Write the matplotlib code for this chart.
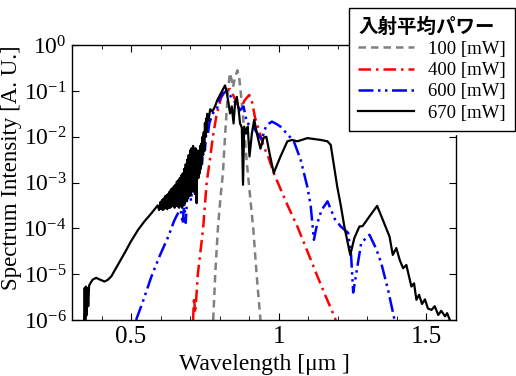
import numpy as np
import matplotlib
matplotlib.use('Agg')
import matplotlib.pyplot as plt
from matplotlib.ticker import MultipleLocator, LogLocator, NullLocator

plt.rcParams['font.family'] = ['Liberation Serif', 'Noto Sans CJK JP']
plt.rcParams['mathtext.fontset'] = 'custom'
plt.rcParams['mathtext.rm'] = 'Liberation Serif'

# wavelength [um] and log10(intensity)
wl_100 = [0.778, 0.785, 0.794, 0.803, 0.811, 0.818, 0.825, 0.832, 0.835, 0.840,
          0.845, 0.852, 0.860, 0.866, 0.874, 0.882, 0.892, 0.903, 0.914, 0.925, 0.938]
lg_100 = [-6.0, -5.0, -4.0, -3.3, -2.8, -2.0, -1.3, -0.75, -0.61, -0.75,
          -0.92, -0.7, -0.55, -0.7, -1.2, -1.8, -2.57, -3.3, -4.03, -5.0, -6.0]

wl_400 = [0.710, 0.713, 0.717, 0.721, 0.726, 0.735, 0.744, 0.750, 0.756, 0.767,
          0.777, 0.790, 0.805, 0.820, 0.835, 0.850, 0.868, 0.885, 0.900, 0.910,
          0.920, 0.935, 0.949, 0.965, 0.983, 1.000, 1.030, 1.063, 1.100, 1.131,
          1.160, 1.180, 1.193]
lg_400 = [-6.0, -5.5, -5.85, -5.5, -5.0, -4.5, -4.0, -3.5, -3.0, -2.5,
          -2.0, -1.5, -1.15, -0.98, -0.96, -1.15, -1.42, -1.2, -1.09, -1.25,
          -1.59, -1.9, -2.21, -2.45, -2.79, -3.05, -3.5, -3.96, -4.55, -5.05,
          -5.5, -5.8, -6.0]

wl_600 = [0.517, 0.540, 0.569, 0.597, 0.626, 0.645, 0.653, 0.660, 0.668, 0.675,
          0.680, 0.685, 0.690, 0.697, 0.703, 0.710, 0.716, 0.722, 0.728, 0.733,
          0.740, 0.745, 0.750, 0.755, 0.760, 0.765, 0.773, 0.780, 0.790, 0.801,
          0.812, 0.824, 0.835, 0.847, 0.858, 0.869, 0.881, 0.892, 0.905, 0.915,
          0.930, 0.943, 0.952, 0.960, 0.977, 0.992, 1.006, 1.030, 1.051, 1.074,
          1.097, 1.108, 1.119, 1.130, 1.145, 1.165, 1.190, 1.210, 1.235, 1.245,
          1.252, 1.262, 1.279, 1.307, 1.330, 1.347, 1.370, 1.392]
lg_600 = [-6.0, -5.6, -5.05, -4.6, -4.18, -3.85, -3.74, -3.66, -3.6, -3.9,
          -3.45, -3.88, -3.3, -3.1, -3.4, -2.94, -3.1, -2.6, -2.8, -2.43,
          -2.6, -2.1, -2.3, -1.85, -1.95, -1.7, -1.56, -1.45, -1.4, -1.16,
          -1.05, -1.0, -1.1, -1.2, -1.3, -1.42, -1.34, -1.7, -1.75, -1.8,
          -1.95, -2.07, -1.85, -1.74, -1.67, -1.72, -1.78, -1.95, -2.1, -2.5,
          -3.1, -3.5, -4.25, -3.9, -3.6, -3.41, -3.8, -3.96, -4.1, -4.6,
          -5.4, -5.0, -4.32, -4.14, -4.45, -4.76, -5.34, -6.0]

wl_670 = [0.341, 0.343, 0.345, 0.347, 0.349, 0.352, 0.355, 0.358, 0.362, 0.370,
          0.382, 0.395, 0.410, 0.420, 0.433, 0.455, 0.478, 0.500, 0.524, 0.545,
          0.569, 0.580, 0.590, 0.595, 0.600, 0.6025, 0.605, 0.6075, 0.610, 0.6125,
          0.615, 0.6175, 0.620, 0.6225, 0.625, 0.6275, 0.630, 0.6325, 0.635, 0.6375,
          0.640, 0.6425, 0.645, 0.6475, 0.650, 0.6525, 0.655, 0.6575, 0.660, 0.6625,
          0.665, 0.6675, 0.670, 0.6725, 0.675, 0.6775, 0.680, 0.6825, 0.685, 0.6875,
          0.690, 0.6925, 0.695, 0.6975, 0.700, 0.7025, 0.705, 0.7075, 0.710, 0.712,
          0.714, 0.716, 0.718, 0.720, 0.722, 0.724, 0.726, 0.728, 0.730, 0.732,
          0.734, 0.736, 0.738, 0.740, 0.742, 0.744, 0.746, 0.748, 0.750, 0.752,
          0.754, 0.756, 0.758, 0.762, 0.768, 0.775,
          0.784, 0.792, 0.800, 0.810, 0.818, 0.823, 0.830, 0.835, 0.841, 0.847,
          0.852, 0.858, 0.864, 0.869, 0.875, 0.879, 0.883, 0.890, 0.895, 0.901,
          0.909, 0.917, 0.926, 0.938, 0.949, 0.958, 0.970, 0.983, 1.006, 1.029,
          1.045, 1.063, 1.097, 1.142, 1.165, 1.176, 1.198, 1.210, 1.222, 1.233,
          1.242, 1.256, 1.273, 1.284, 1.307, 1.333, 1.352, 1.375, 1.386, 1.398,
          1.410, 1.421, 1.432, 1.449, 1.458, 1.466, 1.475, 1.485, 1.495, 1.505,
          1.517, 1.528, 1.540, 1.550, 1.563, 1.570, 1.579]
lg_670 = [-6.0, -5.3, -6.0, -5.27, -5.9, -5.3, -5.7, -5.25, -5.2, -5.12,
          -5.08, -5.12, -5.16, -5.13, -5.05, -4.8, -4.54, -4.28, -4.03, -3.85,
          -3.67, -3.58, -3.5, -3.6, -3.42, -3.58, -3.38, -3.6, -3.35, -3.58,
          -3.3, -3.55, -3.28, -3.58, -3.25, -3.55, -3.2, -3.55, -3.15, -3.52,
          -3.12, -3.5, -3.08, -3.55, -3.05, -3.5, -2.98, -3.52, -2.95, -3.55,
          -2.9, -3.5, -2.85, -3.55, -2.8, -3.5, -2.7, -3.45, -2.6, -3.4,
          -2.5, -3.35, -2.4, -3.3, -2.3, -3.25, -2.25, -3.2, -2.2, -3.0,
          -2.3, -3.25, -2.25, -3.0, -3.45, -2.4, -2.3, -2.9, -2.35, -2.8,
          -2.2, -2.7, -2.15, -2.6, -2.0, -2.4, -1.9, -2.3, -1.7, -2.0,
          -1.6, -1.9, -1.5, -1.65, -1.4, -1.45,
          -1.34, -1.2, -1.1, -0.98, -0.88, -1.0, -1.27, -1.49, -1.34, -1.71,
          -1.27, -1.13, -1.4, -1.71, -1.8, -3.05, -1.78, -1.93, -1.78, -2.43,
          -1.93, -1.63, -1.93, -2.26, -2.02, -2.0, -2.4, -2.79, -2.43, -2.1,
          -2.07, -2.1, -2.03, -2.07, -2.1, -2.18, -3.09, -3.5, -3.96, -4.3,
          -4.58, -4.21, -3.96, -3.95, -3.74, -3.51, -3.81, -4.18, -4.58, -4.43,
          -4.7, -4.87, -4.8, -5.27, -5.2, -5.56, -5.45, -5.65, -5.55, -5.75,
          -5.78, -5.7, -5.89, -5.8, -5.92, -5.85, -6.0]

labels = ['100 [mW]', '400 [mW]', '600 [mW]', '670 [mW]']

fig = plt.figure(figsize=(5.16, 3.76), dpi=100)
ax = fig.add_axes([0.1395, 0.149, 0.7442, 0.731])

ax.plot(wl_100, 10 ** np.array(lg_100), color='#808080', lw=1.8,
        linestyle=(0, (3, 2)), label=labels[0])
ax.plot(wl_400, 10 ** np.array(lg_400), color='#ff0000', lw=1.8,
        linestyle=(0, (5, 2, 1, 2)), label=labels[1])
ax.plot(wl_600, 10 ** np.array(lg_600), color='#0000ff', lw=1.8,
        linestyle=(0, (6, 1.8, 1, 1.8, 1, 1.8)), label=labels[2])
ax.plot(wl_670, 10 ** np.array(lg_670), color='black', lw=1.6,
        label=labels[3])

ax.set_yscale('log')
ax.set_xlim(0.3, 1.6)
ax.set_ylim(1e-6, 1)
ax.xaxis.set_minor_locator(MultipleLocator(0.1))
ax.yaxis.set_major_locator(LogLocator(base=10, numticks=10))
ax.yaxis.set_minor_locator(NullLocator())
ax.set_xticks([0.5, 1.0, 1.5])
ax.set_xticklabels(['0.5', '1', '1.5'])
ax.tick_params(which='both', direction='in', top=True, right=True)
ax.tick_params(axis='x', labelsize=18, pad=4)
ax.tick_params(axis='y', labelsize=17, pad=4)
ax.tick_params(which='major', length=5)
ax.tick_params(which='minor', length=3)
for s in ax.spines.values():
    s.set_linewidth(1.0)

ax.set_xlabel('Wavelength [μm ]', fontsize=17, labelpad=5)
ax.set_ylabel('Spectrum Intensity [A. U.]', fontsize=16.5)
ax.yaxis.set_label_coords(-0.13, 0.555)

leg = fig.legend(loc='upper left', bbox_to_anchor=(0.676, 0.979),
                 borderaxespad=0, fontsize=13.5, frameon=True, fancybox=False,
                 shadow={'shade': 0.0, 'alpha': 1.0},
                 handlelength=3.0, handletextpad=0.7, labelspacing=0.22,
                 borderpad=0.5,
                 title='入射平均パワー',
                 title_fontproperties={'family': 'Noto Sans CJK JP',
                                       'weight': 'bold', 'size': 14})
leg._legend_box.align = 'left'
leg.get_frame().set_edgecolor('black')
leg.get_frame().set_linewidth(1.0)

fig.savefig('out.png', dpi=100)
